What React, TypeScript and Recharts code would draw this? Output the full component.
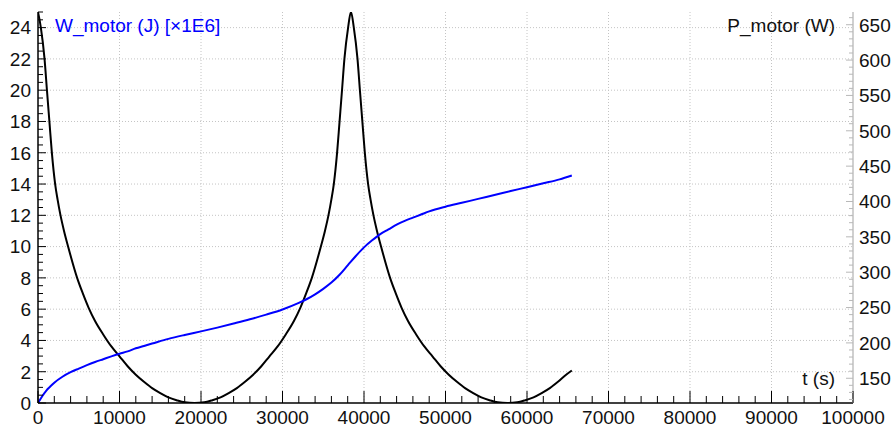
import React from 'react';
import { LineChart, Line, XAxis, YAxis, CartesianGrid } from 'recharts';

// axis labels (major ticks)
const timeMajor = [0, 10000, 20000, 30000, 40000, 50000, 60000, 70000, 80000, 90000, 100000];
const energyMajor = [0, 2, 4, 6, 8, 10, 12, 14, 16, 18, 20, 22, 24];
const powerMajor = [150, 200, 250, 300, 350, 400, 450, 500, 550, 600, 650];

// P_motor (W), black curve
const powerTime = [
  0, 350, 800, 1100, 1400, 1700, 2100, 2400, 2750, 3200, 3700, 4800, 5500, 6200, 7000, 8000, 9000, 10000, 11000, 12000, 13000, 14000, 15000, 16000, 17000, 18000, 19200,
  20400, 21400, 22400, 23400, 24400, 25400, 26400, 27400, 28400, 29400, 30400, 31400, 32200, 32900, 33600, 34700, 35200, 35650, 36000, 36300, 36700, 37000, 37300, 37600, 38050, 38400,
  38750, 39200, 39500, 39800, 40100, 40500, 40800, 41150, 41600, 42100, 43200, 43900, 44600, 45400, 46400, 47400, 48400, 49400, 50400, 51400, 52400, 53400, 54400, 55400, 56400, 57600,
  58800, 59800, 60800, 61800, 62800, 63800, 64800, 65500,
];
const powerValue = [
  668, 646, 602, 557, 513, 469, 425, 403, 381, 358, 336, 292, 270, 250, 231, 212, 195, 181, 167, 155, 145, 136, 129, 123, 119, 116, 115,
  116, 119, 123, 129, 136, 145, 155, 167, 181, 195, 212, 231, 250, 270, 292, 336, 358, 381, 403, 425, 469, 513, 557, 602, 646, 668,
  646, 602, 557, 513, 469, 425, 403, 381, 358, 336, 292, 270, 250, 231, 212, 195, 181, 167, 155, 145, 136, 129, 123, 119, 116, 115,
  116, 119, 123, 129, 136, 145, 155, 161,
];

// W_motor (J) x1E6, blue curve
const energyTime = [
  0, 500, 1000, 1500, 2000, 3000, 4000, 5000, 6000, 7000, 8000, 9000, 10000, 11000, 12000, 13000, 14000, 16000, 18000,
  20000, 22000, 24000, 26000, 28000, 30000, 32000, 33000, 34000, 35000, 36000, 37000, 38000, 39000, 40000, 41000, 42000,
  43000, 44000, 45000, 46000, 47000, 48000, 50000, 52000, 54000, 56000, 58000, 60000, 62000, 64000, 65500,
];
const energyValue = [
  0, 0.42, 0.78, 1.05, 1.3, 1.68, 1.97, 2.2, 2.42, 2.62, 2.8, 2.98, 3.15, 3.3, 3.5, 3.65, 3.8, 4.1, 4.35,
  4.58, 4.82, 5.08, 5.35, 5.65, 5.98, 6.4, 6.65, 6.95, 7.3, 7.7, 8.2, 8.8, 9.4, 9.95, 10.4, 10.8,
  11.1, 11.4, 11.65, 11.85, 12.05, 12.25, 12.55, 12.8, 13.05, 13.3, 13.55, 13.8, 14.05, 14.3, 14.55,
];

const powerData = powerTime.map((t, i) => ({ t, p: powerValue[i] }));
const energyData = energyTime.map((t, i) => ({ t, w: energyValue[i] }));

// minor tick positions
const steps = (from: number, to: number, step: number) => {
  const out: number[] = [];
  for (let v = from; v <= to + 1e-9; v += step) out.push(Math.round(v * 1000) / 1000);
  return out;
};
const timeTicks = steps(0, 100000, 2000);
const energyTicks = steps(0, 25, 0.5);
const powerTicks = steps(120, 660, 10);

const FONT = "'Liberation Sans', Arial, sans-serif";
const isMajor = (v: number, list: number[]) => list.some((m) => Math.abs(m - v) < 1e-6);

const XTick = (props: any) => {
  const { x, y, payload } = props;
  const major = isMajor(payload.value, timeMajor);
  return (
    <g>
      <line x1={x} x2={x} y1={y} y2={y - (major ? 12 : 7)} stroke="#000" strokeWidth={1} />
      {major && (
        <text x={x} y={y + 20.5} textAnchor="middle" fontSize={19} fontFamily={FONT} fill="#111">
          {payload.value}
        </text>
      )}
    </g>
  );
};

const LeftTick = (props: any) => {
  const { x, y, payload } = props;
  const major = isMajor(payload.value, energyMajor);
  return (
    <g>
      <line x1={x} x2={x + (major ? 8 : 5)} y1={y} y2={y} stroke="#000" strokeWidth={1} />
      {major && (
        <text x={x - 7} y={y + 6.8} textAnchor="end" fontSize={19} fontFamily={FONT} fill="#111">
          {payload.value}
        </text>
      )}
    </g>
  );
};

const RightTick = (props: any) => {
  const { x, y, payload } = props;
  const major = isMajor(payload.value, powerMajor);
  return (
    <g>
      <line x1={x} x2={x - (major ? 7 : 4)} y1={y} y2={y} stroke="#b8b8b8" strokeWidth={1} />
      {major && (
        <text x={x + 6} y={y + 6.8} textAnchor="start" fontSize={19} fontFamily={FONT} fill="#111">
          {payload.value}
        </text>
      )}
    </g>
  );
};

const labelStyle: React.CSSProperties = {
  position: 'absolute',
  fontFamily: FONT,
  fontSize: 19,
  lineHeight: '19px',
  whiteSpace: 'nowrap',
};

export default function App() {
  return (
    <div style={{ position: 'fixed', left: 0, top: 0, width: 894, height: 428, background: '#fff' }}>
      <LineChart width={894} height={428} margin={{ top: 12, right: 0, bottom: 0, left: 0 }}>
        <CartesianGrid
          xAxisId="x"
          yAxisId="left"
          horizontalValues={energyMajor.slice(1)}
          verticalValues={timeMajor.slice(1, -1)}
          stroke="#c4c4c4"
          strokeDasharray="1 2"
        />
        <XAxis
          xAxisId="x"
          type="number"
          dataKey="t"
          domain={[0, 100000]}
          ticks={timeTicks}
          interval={0}
          height={25}
          tickSize={0}
          tickMargin={0}
          tickLine={false}
          tick={(p: any) => <XTick {...p} />}
          axisLine={{ stroke: '#000', strokeWidth: 1.5 }}
          allowDataOverflow
        />
        <YAxis
          yAxisId="left"
          orientation="left"
          type="number"
          domain={[0, 25]}
          ticks={energyTicks}
          interval={0}
          width={38}
          tickSize={0}
          tickMargin={0}
          tickLine={false}
          tick={(p: any) => <LeftTick {...p} />}
          axisLine={{ stroke: '#000', strokeWidth: 1.5 }}
          allowDataOverflow
        />
        <YAxis
          yAxisId="right"
          orientation="right"
          type="number"
          domain={[115, 668]}
          ticks={powerTicks}
          interval={0}
          width={41}
          tickSize={0}
          tickMargin={0}
          tickLine={false}
          tick={(p: any) => <RightTick {...p} />}
          axisLine={{ stroke: '#c0c0c0', strokeWidth: 1.5 }}
          allowDataOverflow
        />
        <Line
          xAxisId="x"
          yAxisId="right"
          data={powerData}
          dataKey="p"
          type="monotone"
          stroke="#000"
          strokeWidth={2}
          dot={false}
          isAnimationActive={false}
        />
        <Line
          xAxisId="x"
          yAxisId="left"
          data={energyData}
          dataKey="w"
          type="monotone"
          stroke="#0000ff"
          strokeWidth={2}
          dot={false}
          isAnimationActive={false}
        />
      </LineChart>
      <div style={{ ...labelStyle, left: 55, top: 15.5, color: '#0000ff' }}>W_motor (J) [×1E6]</div>
      <div style={{ ...labelStyle, right: 894 - 835, top: 15.5, color: '#111' }}>P_motor (W)</div>
      <div style={{ ...labelStyle, right: 894 - 835, top: 368.5, color: '#111' }}>t (s)</div>
    </div>
  );
}
